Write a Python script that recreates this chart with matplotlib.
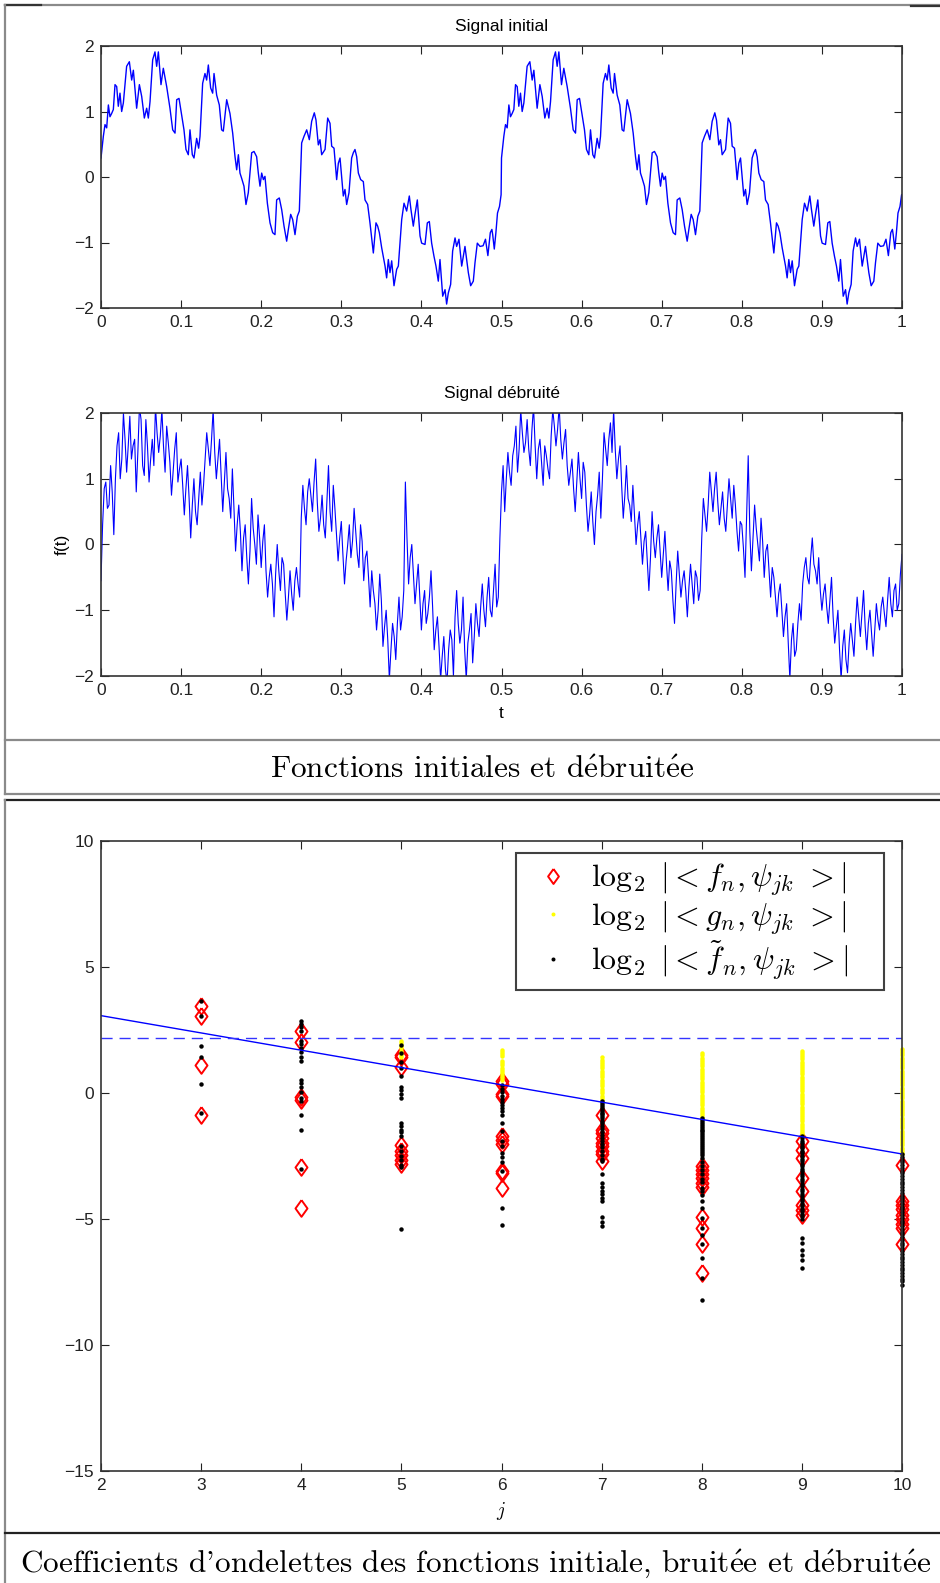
import numpy as np
import matplotlib.pyplot as plt
from matplotlib.lines import Line2D

plt.rcParams['font.family'] = ['Liberation Sans', 'DejaVu Sans']
plt.rcParams['mathtext.fontset'] = 'cm'

# ---- signal initial : one period on [0, 0.5), repeated on [0.5, 1) ----
t_period = [
    0.0000, 0.0029, 0.0050, 0.0071, 0.0092, 0.0112, 0.0133, 0.0154, 0.0175, 0.0196,
    0.0216, 0.0237, 0.0258, 0.0279, 0.0320, 0.0354, 0.0383, 0.0404, 0.0445, 0.0479,
    0.0508, 0.0541, 0.0570, 0.0591, 0.0612, 0.0645, 0.0674, 0.0695, 0.0716, 0.0749,
    0.0778, 0.0820, 0.0861, 0.0895, 0.0924, 0.0945, 0.0974, 0.1007, 0.1036, 0.1061,
    0.1090, 0.1111, 0.1140, 0.1161, 0.1194, 0.1219, 0.1236, 0.1269, 0.1298, 0.1319,
    0.1340, 0.1369, 0.1394, 0.1411, 0.1444, 0.1477, 0.1506, 0.1527, 0.1569, 0.1610,
    0.1644, 0.1673, 0.1694, 0.1715, 0.1735, 0.1756, 0.1785, 0.1810, 0.1839, 0.1881,
    0.1910, 0.1943, 0.1964, 0.1985, 0.2006, 0.2027, 0.2047, 0.2077, 0.2110, 0.2143,
    0.2172, 0.2193, 0.2226, 0.2256, 0.2285, 0.2318, 0.2339, 0.2368, 0.2393, 0.2422,
    0.2451, 0.2476, 0.2505, 0.2534, 0.2568, 0.2601, 0.2630, 0.2663, 0.2684, 0.2713,
    0.2734, 0.2755, 0.2797, 0.2830, 0.2859, 0.2880, 0.2909, 0.2942, 0.2963, 0.2984,
    0.3025, 0.3046, 0.3067, 0.3096, 0.3129, 0.3150, 0.3171, 0.3192, 0.3213, 0.3242,
    0.3275, 0.3296, 0.3329, 0.3358, 0.3400, 0.3433, 0.3454, 0.3475, 0.3504, 0.3546,
    0.3566, 0.3587, 0.3608, 0.3629, 0.3658, 0.3691, 0.3712, 0.3754, 0.3783, 0.3816,
    0.3849, 0.3870, 0.3899, 0.3920, 0.3949, 0.3983, 0.4003, 0.4045, 0.4074, 0.4099,
    0.4128, 0.4157, 0.4182, 0.4211, 0.4232, 0.4266, 0.4295, 0.4315, 0.4336, 0.4365,
    0.4390, 0.4420, 0.4440, 0.4469, 0.4503, 0.4544, 0.4565, 0.4586, 0.4615, 0.4648,
    0.4669, 0.4698, 0.4732, 0.4770, 0.4800, 0.4830, 0.4860, 0.4880, 0.4890, 0.4910,
    0.4930, 0.4950, 0.4975, 0.4995,
]
f_period = [
    0.29, 0.62, 0.80, 0.75, 1.10, 0.92, 0.97, 1.03, 1.41, 1.38,
    1.08, 1.28, 1.00, 1.13, 1.69, 1.76, 1.48, 1.63, 1.05, 1.41,
    1.23, 0.90, 1.05, 0.90, 1.15, 1.79, 1.91, 1.69, 1.91, 1.41,
    1.66, 1.38, 1.05, 0.72, 0.67, 1.18, 1.20, 0.95, 0.72, 0.42,
    0.34, 0.72, 0.34, 0.29, 0.59, 0.44, 0.62, 1.43, 1.58, 1.48,
    1.71, 1.36, 1.28, 1.58, 1.25, 1.10, 0.72, 0.70, 1.18, 0.97,
    0.67, 0.31, 0.11, 0.34, 0.06, -0.02, -0.14, -0.42, -0.24, 0.37,
    0.39, 0.31, 0.06, -0.14, 0.06, -0.04, 0.01, -0.40, -0.70, -0.85,
    -0.88, -0.35, -0.32, -0.50, -0.75, -0.98, -0.80, -0.57, -0.65, -0.88,
    -0.60, -0.52, 0.52, 0.62, 0.72, 0.57, 0.85, 0.98, 0.87, 0.49,
    0.57, 0.34, 0.42, 0.90, 0.82, 0.47, 0.44, -0.04, 0.21, 0.29,
    -0.29, -0.19, -0.42, -0.24, 0.29, 0.37, 0.42, 0.31, 0.06, -0.04,
    -0.07, -0.35, -0.42, -0.70, -1.16, -0.70, -0.75, -0.85, -1.08, -1.36,
    -1.54, -1.26, -1.46, -1.28, -1.66, -1.41, -1.36, -0.65, -0.40, -0.52,
    -0.29, -0.50, -0.75, -0.57, -0.35, -0.90, -1.01, -1.03, -0.70, -0.68,
    -1.01, -1.21, -1.36, -1.59, -1.26, -1.82, -1.72, -1.94, -1.77, -1.64,
    -1.13, -0.93, -1.06, -0.95, -1.36, -1.06, -1.26, -1.46, -1.66, -1.59,
    -1.31, -1.01, -1.06, -1.05, -0.95, -1.20, -0.85, -0.80, -0.88, -1.10,
    -0.85, -0.55, -0.45, -0.27,
]
f_last = -0.27

# ---- signal débruité, one sample every 0.002 on [0, 1] ----
g_signal = [
    -0.55, 0.30, 0.85, 0.95, 0.55, 0.60, 1.20, 0.80, 0.15, 1.00,
    1.50, 1.70, 1.00, 1.30, 2.00, 1.60, 1.10, 1.50, 1.95, 1.30,
    1.50, 1.60, 0.80, 1.40, 2.10, 1.90, 1.20, 1.05, 1.90, 1.50,
    0.95, 1.30, 1.60, 1.20, 2.10, 1.70, 1.40, 1.65, 2.05, 1.50,
    1.10, 1.80, 1.55, 1.25, 0.75, 1.10, 1.45, 1.70, 0.95, 1.15,
    1.30, 0.90, 0.45, 0.85, 1.20, 0.70, 0.10, 0.60, 1.00, 0.50,
    0.30, 0.70, 1.10, 0.60, 0.90, 1.30, 1.70, 1.45, 1.20, 1.60,
    2.05, 1.40, 1.00, 1.30, 1.60, 1.05, 0.50, 0.95, 1.40, 0.85,
    0.70, 0.40, 1.15, 0.55, -0.10, 0.30, 0.60, 0.20, -0.40, 0.10,
    0.30, -0.20, -0.60, -0.10, 0.70, 0.25, 0.00, -0.30, 0.45, 0.10,
    -0.35, 0.05, 0.30, -0.40, -0.80, -0.50, -0.30, -0.60, -1.10, -0.45,
    0.00, -0.40, -0.70, -0.20, -0.30, -0.75, -1.15, -0.80, -0.40, -0.75,
    -1.00, -0.55, -0.35, -0.60, -0.80, 0.40, 0.90, 0.55, 0.30, 0.80,
    1.00, 0.75, 0.50, 0.95, 1.30, 0.65, 0.20, 0.40, 0.75, 0.30,
    0.10, 0.65, 1.20, 0.50, 0.20, 0.90, 0.55, 0.15, -0.25, 0.10,
    0.35, -0.15, -0.60, -0.25, 0.00, 0.30, -0.20, 0.05, 0.55, 0.20,
    -0.15, -0.35, 0.30, 0.05, -0.55, -0.20, -0.10, -0.50, -0.95, -0.40,
    -0.70, -0.90, -1.30, -1.00, -0.45, -0.85, -1.55, -1.25, -1.00, -1.45,
    -2.05, -1.60, -1.20, -1.40, -1.75, -1.20, -0.80, -1.30, -1.10, -0.70,
    0.95, 0.10, -0.60, -0.20, 0.00, -0.45, -0.90, -0.60, -0.30, -0.80,
    -1.30, -0.90, -0.70, -1.20, -1.05, -0.80, -0.40, -0.95, -1.60, -1.30,
    -1.10, -1.55, -2.05, -1.70, -1.40, -1.90, -2.10, -1.60, -1.30, -1.45,
    -2.00, -1.10, -0.70, -1.20, -1.50, -1.30, -0.80, -1.60, -2.05, -1.50,
    -1.30, -1.05, -1.80, -1.40, -0.90, -1.20, -1.40, -0.95, -0.60, -1.00,
    -1.25, -0.80, -0.50, -1.00, -1.10, -0.70, -0.30, -0.95, -0.80, 0.10,
    0.80, 1.20, 0.50, 1.00, 1.40, 1.10, 0.90, 1.35, 1.50, 1.80,
    1.10, 1.45, 2.05, 1.70, 1.40, 1.55, 1.90, 1.45, 1.20, 1.75,
    2.10, 1.50, 1.00, 1.45, 1.60, 1.25, 0.90, 1.50, 1.35, 1.15,
    1.00, 1.65, 2.05, 1.80, 1.50, 1.75, 2.10, 1.60, 1.30, 1.55,
    1.75, 1.20, 0.90, 1.10, 1.30, 0.85, 0.50, 0.95, 1.40, 1.00,
    0.70, 1.25, 1.10, 0.60, 0.20, 0.45, 0.80, 0.35, 0.00, 0.50,
    0.75, 1.10, 0.40, 1.00, 1.70, 1.45, 1.20, 1.60, 1.85, 1.40,
    2.05, 1.45, 1.00, 1.30, 1.50, 0.90, 0.40, 0.75, 1.20, 0.70,
    0.60, 0.35, 0.90, 0.45, 0.00, 0.30, 0.50, 0.10, -0.30, 0.05,
    0.20, -0.25, -0.70, -0.20, 0.50, 0.05, -0.20, 0.10, 0.30, -0.10,
    -0.50, -0.15, 0.20, -0.30, -0.70, -0.25, -0.40, -0.85, -1.20, -0.60,
    -0.10, -0.45, -0.80, -0.55, -0.40, -0.70, -1.10, -0.65, -0.30, -0.60,
    -0.90, -0.40, -0.50, -0.85, -0.70, 0.10, 0.70, 0.45, 0.20, 0.60,
    1.10, 0.80, 0.50, 0.85, 1.10, 0.65, 0.30, 0.55, 0.80, 0.40,
    0.20, 0.60, 1.00, 0.70, 0.40, 0.90, 0.60, 0.20, -0.10, 0.35,
    0.30, -0.05, -0.50, 0.40, 1.35, 0.20, -0.40, 0.10, 0.60, 0.25,
    0.00, -0.25, 0.40, 0.05, -0.50, -0.10, 0.00, -0.40, -0.80, -0.35,
    -0.50, -0.80, -1.10, -0.75, -0.60, -1.00, -1.40, -1.10, -0.90, -1.50,
    -2.05, -1.45, -1.20, -1.70, -1.60, -1.20, -0.90, -1.15, -0.60, -0.35,
    -0.20, -0.50, -0.60, -0.20, 0.10, -0.30, -0.40, -0.60, -0.20, -0.70,
    -1.00, -0.75, -0.60, -0.95, -1.20, -0.85, -0.50, -1.10, -1.50, -1.25,
    -1.00, -1.60, -2.05, -1.55, -1.30, -1.75, -1.95, -1.50, -1.20, -1.45,
    -1.70, -1.20, -0.80, -1.10, -1.40, -1.05, -0.70, -1.25, -1.60, -1.20,
    -1.00, -1.35, -1.70, -1.30, -0.90, -1.15, -1.30, -0.95, -0.80, -1.05,
    -1.25, -0.85, -0.50, -0.90, -1.10, -0.70, -0.60, -1.00, -0.90, -0.45,
    -0.15,
]

# ---- wavelet coefficients, log2 of the absolute value, per level j ----
levels = [3, 4, 5, 6, 7, 8, 9, 10]
coef_f = [
    [3.47, 3.04, 1.12, -0.89],
    [2.47, 2.03, -0.16, -0.29, -2.94, -4.57],
    [1.50, 1.41, 1.04, -2.08, -2.31, -2.48, -2.64, -2.82],
    [0.48, 0.37, -0.05, -0.10, -1.69, -1.85, -2.02, -3.08, -3.18, -3.77],
    [-0.89, -1.45, -1.58, -1.78, -1.98, -2.10, -2.30, -2.44, -2.71],
    [-2.88, -3.04, -3.20, -3.36, -3.56, -3.74, -4.94, -5.37, -5.99, -7.16],
    [-1.89, -2.25, -2.58, -3.37, -3.88, -4.44, -4.64, -4.83],
    [-2.84, -4.30, -4.45, -4.60, -4.83, -5.00, -5.20, -5.37, -5.99],
]
coef_g = [
    [],
    [],
    [2.07, 1.97, 1.86, 1.77, 1.68, 1.58, 1.50, 1.42],
    [1.72, 1.64, 1.55, 1.46, 1.27, 1.18, 1.10, 1.00, 0.92, 0.84, 0.75, 0.68, 0.58, 0.50],
    [1.41, 1.32, 1.24, 1.15, 1.06, 0.98, 0.89, 0.80, 0.71, 0.62, 0.53, 0.44, 0.35, 0.26,
     0.17, 0.08, -0.01, -0.10, -0.19, -0.27],
    [1.57, 1.49, 1.40, 1.31, 1.23, 1.14, 1.06, 0.97, 0.88, 0.80, 0.71, 0.63, 0.54, 0.45,
     0.37, 0.28, 0.20, 0.11, 0.02, -0.06, -0.15, -0.23, -0.32, -0.41, -0.49, -0.58,
     -0.66, -0.75, -0.83, -0.92, -1.00],
    [1.67, 1.59, 1.50, 1.42, 1.33, 1.25, 1.16, 1.08, 0.99, 0.91, 0.82, 0.74, 0.65, 0.57,
     0.48, 0.40, 0.31, 0.23, 0.14, 0.06, -0.03, -0.11, -0.20, -0.28, -0.37, -0.45, -0.54,
     -0.62, -0.71, -0.79, -0.88, -0.96, -1.05, -1.13, -1.22, -1.30, -1.39, -1.47, -1.56,
     -1.64, -1.71],
    [1.74, 1.66, 1.57, 1.49, 1.40, 1.32, 1.23, 1.15, 1.06, 0.98, 0.89, 0.81, 0.72, 0.64,
     0.55, 0.47, 0.38, 0.30, 0.21, 0.13, 0.04, -0.04, -0.13, -0.21, -0.30, -0.38, -0.47,
     -0.55, -0.64, -0.72, -0.81, -0.89, -0.98, -1.06, -1.15, -1.23, -1.32, -1.40, -1.49,
     -1.57, -1.66, -1.74, -1.83, -1.91, -2.00, -2.08, -2.17, -2.25, -2.34, -2.42],
]
coef_fd = [
    [3.64, 3.04, 1.88, 1.41, 0.35, -0.81],
    [2.87, 2.74, 2.60, 2.47, 2.07, 1.94, 1.78, 1.61, 1.41, 1.27, 0.52, 0.38, 0.24, 0.05,
     -0.21, -0.32, -0.86, -1.45, -3.02],
    [1.90, 1.60, 1.25, 1.00, 0.68, 0.25, 0.10, -0.05, -0.20, -1.20, -1.30, -1.45, -1.55,
     -1.70, -2.10, -2.30, -2.50, -2.65, -2.85, -2.95, -5.40],
    [0.30, 0.15, 0.05, -0.10, -0.22, -0.35, -0.48, -0.60, -0.72, -0.88, -1.18, -1.50,
     -1.90, -2.12, -2.40, -2.55, -2.75, -3.10, -4.57, -5.23],
    [-0.32, -0.40, -0.47, -0.55, -0.62, -0.70, -0.78, -0.85, -0.92, -1.00, -1.10, -1.20,
     -1.30, -1.42, -1.55, -1.66, -1.78, -1.90, -2.02, -2.15, -2.30, -2.45, -2.60, -2.71,
     -3.20, -3.56, -3.72, -3.88, -4.02, -4.18, -4.30, -4.94, -5.10, -5.26],
    [-1.01, -1.08, -1.15, -1.22, -1.30, -1.37, -1.45, -1.52, -1.60, -1.67, -1.75, -1.83,
     -1.90, -1.98, -2.06, -2.14, -2.22, -2.30, -2.38, -2.46, -2.58, -2.75, -2.90, -3.05,
     -3.20, -3.40, -3.55, -3.75, -3.90, -4.04, -4.30, -4.57, -4.97, -5.37, -5.63, -5.99,
     -6.56, -7.36, -8.22],
    [-1.71, -1.80, -1.90, -2.00, -2.10, -2.20, -2.30, -2.40, -2.50, -2.60, -2.70, -2.80,
     -2.90, -3.00, -3.10, -3.20, -3.30, -3.40, -3.50, -3.60, -3.70, -3.80, -3.90, -4.00,
     -4.10, -4.20, -4.30, -4.40, -4.50, -4.60, -4.70, -4.80, -4.90, -5.00, -5.76, -5.96,
     -6.23, -6.43, -6.63, -6.96],
    [-2.42, -2.53, -2.64, -2.75, -2.86, -2.97, -3.08, -3.19, -3.30, -3.41, -3.52, -3.63,
     -3.74, -3.85, -3.96, -4.07, -4.18, -4.29, -4.40, -4.51, -4.62, -4.73, -4.84, -4.95,
     -5.06, -5.17, -5.28, -5.39, -5.50, -5.61, -5.72, -5.83, -5.94, -6.05, -6.16, -6.27,
     -6.38, -6.49, -6.60, -6.71, -6.82, -6.93, -7.04, -7.15, -7.26, -7.37, -7.48, -7.60],
]
# thresholds: sloped line between j=2 and j=10, flat dashed level
slope_j = [2, 10]
slope_val = [3.07, -2.42]
flat_val = 2.2

W, H = 940, 1583
fig = plt.figure(figsize=(W / 100, H / 100), dpi=100)
FS = 12.5


def rect(x0, y0, x1, y1):
    return [x0 / W, 1 - y1 / H, (x1 - x0) / W, (y1 - y0) / H]


def hline(y, x0, x1, color, lw=1.6):
    fig.add_artist(Line2D([x0 / W, x1 / W], [1 - y / H, 1 - y / H], color=color, lw=lw))


def vline(x, y0, y1, color, lw=1.6):
    fig.add_artist(Line2D([x / W, x / W], [1 - y0 / H, 1 - y1 / H], color=color, lw=lw))


def style(ax):
    ax.tick_params(direction='in', top=True, right=True, length=5.5, width=0.8,
                   labelsize=FS, pad=5, colors='#222222')
    for s in ax.spines.values():
        s.set_color('#333333')
        s.set_linewidth(1.2)


# frames around the two figures and their captions
hline(5, 5, 940, '#8a8a8a')
hline(5, 5, 41, '#333333')
hline(6, 911, 940, '#333333')
vline(5, 5, 794, '#8a8a8a')
hline(740, 5, 940, '#8a8a8a')
hline(794, 5, 940, '#8a8a8a')
hline(800, 5, 940, '#222222')
vline(5, 800, 1583, '#8a8a8a')
hline(1533, 5, 940, '#222222')

cap_font = dict(family='cmr10', fontsize=22.5, ha='center', va='center')
e_acute = r'$\mathrm{\acute{e}}$'
fig.text(482 / W, 1 - 770 / H, 'Fonctions initiales et d' + e_acute + 'bruit' + e_acute + 'e',
         **cap_font)
fig.text(476 / W, 1 - 1564 / H,
         "Coefficients d'ondelettes des fonctions initiale, bruit" + e_acute
         + 'e et d' + e_acute + 'bruit' + e_acute + 'e', **cap_font)

tlabels = ['0', '0.1', '0.2', '0.3', '0.4', '0.5', '0.6', '0.7', '0.8', '0.9', '1']

# signal initial
ax1 = fig.add_axes(rect(101, 46, 902, 308))
t_init = np.concatenate([t_period, np.array(t_period) + 0.5, [1.0]])
f_init = np.concatenate([f_period, f_period, [f_last]])
ax1.plot(t_init, f_init, color='#0000ff', lw=1.0)
ax1.set_xlim(0, 1)
ax1.set_ylim(-2, 2)
ax1.set_xticks(np.arange(0, 1.01, 0.1))
ax1.set_xticklabels(tlabels)
ax1.set_yticks([-2, -1, 0, 1, 2])
ax1.set_title('Signal initial', fontsize=FS, pad=10.5)
style(ax1)

# signal débruité
ax2 = fig.add_axes(rect(101, 413, 902, 676))
t_g = np.linspace(0, 1, len(g_signal))
ax2.plot(t_g, g_signal, color='#0000ff', lw=0.8)
ax2.set_xlim(0, 1)
ax2.set_ylim(-2, 2)
ax2.set_xticks(np.arange(0, 1.01, 0.1))
ax2.set_xticklabels(tlabels)
ax2.set_yticks([-2, -1, 0, 1, 2])
ax2.set_title('Signal débruité', fontsize=FS, pad=10.5)
ax2.set_xlabel('t', fontsize=FS, labelpad=6)
ax2.set_ylabel('f(t)', fontsize=FS, labelpad=3)
style(ax2)

# wavelet coefficients
ax3 = fig.add_axes(rect(101, 841, 902, 1471))
diamond = [(0, 1), (0.72, 0), (0, -1), (-0.72, 0), (0, 1)]
for i, j in enumerate(levels):
    ax3.plot(np.full(len(coef_f[i]), j), coef_f[i], linestyle='none', marker=diamond,
             markersize=12, markerfacecolor='none', markeredgecolor='#ff0000',
             markeredgewidth=1.4, clip_on=False,
             label=r'$\log_2\ |<f_n,\psi_{jk}\ >|$' if i == 0 else None)
for i, j in enumerate(levels):
    ax3.plot(np.full(len(coef_g[i]), j), coef_g[i], linestyle='none', marker='o',
             markersize=3.2, markeredgewidth=0, color='#ffff00', clip_on=False,
             label=r'$\log_2\ |<g_n,\psi_{jk}\ >|$' if i == 2 else None)
for i, j in enumerate(levels):
    ax3.plot(np.full(len(coef_fd[i]), j), coef_fd[i], linestyle='none', marker='o',
             markersize=3.2, markeredgewidth=0, color='#000000', clip_on=False,
             label=r'$\log_2\ |<\tilde{f}_n,\psi_{jk}\ >|$' if i == 0 else None)
ax3.plot(slope_j, slope_val, color='#0000ff', lw=1.0)
ax3.plot(slope_j, [flat_val, flat_val], color='#3333ff', lw=1.0, dashes=(8, 5))
ax3.set_xlim(2, 10)
ax3.set_ylim(-15, 10)
ax3.set_xticks(range(2, 11))
ax3.set_yticks([-15, -10, -5, 0, 5, 10])
ax3.set_xlabel('$j$', fontsize=14, labelpad=5)
style(ax3)
leg = ax3.legend(loc='upper left', bbox_to_anchor=(0.518, 0.981, 0.4595, 0.0),
                 mode='expand', borderaxespad=0, fontsize=23, frameon=True, fancybox=False,
                 handletextpad=0.3, handlelength=1.8, labelspacing=0.05, borderpad=0.25,
                 markerscale=0.9)
leg.get_frame().set_edgecolor('#111111')
leg.get_frame().set_linewidth(1.5)

fig.savefig('out.png', dpi=100)
